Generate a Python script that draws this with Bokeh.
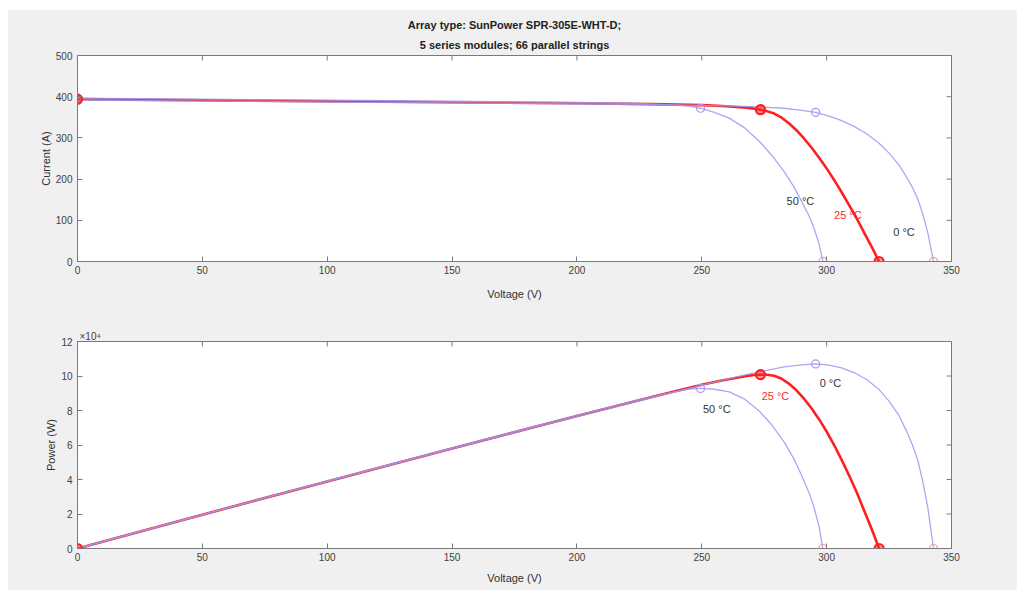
import math
from bokeh.plotting import figure
from bokeh.models import Title, Label, FixedTicker, Range1d
from bokeh.layouts import column
from bokeh.embed import file_html
from bokeh.resources import INLINE

# ---------------- data ----------------
TITLE_LINE1 = "Array type: SunPower SPR-305E-WHT-D;"
TITLE_LINE2 = "5 series modules; 66 parallel strings"

X_TICKS = [0, 50, 100, 150, 200, 250, 300, 350]
I_TICKS = [0, 100, 200, 300, 400, 500]
P_TICKS = [0, 2, 4, 6, 8, 10, 12]          # x 10^4 W

# 0 degC curve (voltage V, current A)
V_0C = [0, 50, 100, 150, 200, 250, 270, 283, 290, 295.6, 301, 306, 311, 316, 321, 325, 329, 332,
        334.5, 336.5, 338.5, 340.5, 342.8]
I_0C = [392, 389.5, 387, 385, 382.5, 379, 376, 372, 367, 362, 353, 342, 328, 310, 287, 263, 234, 205,
        178, 152, 115, 70, 0]

# 25 degC curve
V_25C = [0, 50, 100, 150, 200, 230, 250, 258, 264, 268, 271, 273.5, 276, 279, 282, 285, 288, 291,
         294, 297, 300, 303, 306, 309, 312, 315, 318, 321]
I_25C = [394, 391.5, 389, 386.5, 384, 382, 379.5, 377.5, 375, 373, 371, 368.5, 365, 359, 349, 335, 318, 298,
         276, 252, 226, 198, 168, 137, 105, 70, 36, 0]

# 50 degC curve
V_50C = [0, 50, 100, 150, 200, 225, 240, 245, 249.5, 255, 261, 267, 273, 278, 283, 287, 290, 293,
         295, 297, 298.5]
I_50C = [396.5, 394, 391.5, 389, 386, 383.5, 379.5, 377, 372, 362, 348, 325, 292, 258, 218, 180, 146, 110,
         80, 42, 0]

# marked points: (short circuit, maximum power, open circuit)
MARK_V_0C = [0, 295.6, 342.8]
MARK_I_0C = [392, 362, 0]
MARK_V_25C = [0, 273.5, 321]
MARK_I_25C = [394, 368.5, 0]
MARK_V_50C = [0, 249.5, 298.5]
MARK_I_50C = [396.5, 372, 0]

TEMP_LABELS = ["0 \u00b0C", "25 \u00b0C", "50 \u00b0C"]

# power = V * I, expressed in units of 10^4 W
def power(vs, is_):
    return [v * i / 1e4 for v, i in zip(vs, is_)]

P_0C, P_25C, P_50C = power(V_0C, I_0C), power(V_25C, I_25C), power(V_50C, I_50C)
MP_0C, MP_25C, MP_50C = power(MARK_V_0C, MARK_I_0C), power(MARK_V_25C, MARK_I_25C), power(MARK_V_50C, MARK_I_50C)

# ---------------- style ----------------
FONT = "Liberation Sans"
BG = "#f0f0f0"
AX = "#7a7a7a"
TXT = "#404040"
BLUE = "#9a9af2"
RED = "#ff1f1f"
VIOLET = "#b88ef0"
PINK = "#e69aa6"


def style_axis(ax):
    ax.axis_line_color = AX
    ax.major_tick_line_color = AX
    ax.major_tick_in = 5
    ax.major_tick_out = 0
    ax.minor_tick_line_color = None
    ax.major_label_text_font = FONT
    ax.major_label_text_font_size = "10px"
    ax.major_label_text_color = TXT
    ax.axis_label_text_font = FONT
    ax.axis_label_text_font_size = "11px"
    ax.axis_label_text_font_style = "normal"
    ax.axis_label_text_color = "#303030"


def make_fig(top, bottom, fheight, y_end, y_ticks, ylabel, xlabel_standoff):
    p = figure(frame_width=874, frame_height=fheight,
               min_border_left=69, min_border_right=66,
               min_border_top=top, min_border_bottom=bottom,
               x_range=Range1d(0, 350), y_range=Range1d(0, y_end),
               output_backend="svg", toolbar_location=None,
               background_fill_color="white", border_fill_color=BG,
               outline_line_color=AX)
    p.xgrid.visible = False
    p.ygrid.visible = False
    p.xaxis.ticker = FixedTicker(ticks=X_TICKS)
    p.yaxis.ticker = FixedTicker(ticks=y_ticks)
    p.xaxis.axis_label = "Voltage (V)"
    p.yaxis.axis_label = ylabel
    p.xaxis.major_label_standoff = 4
    p.yaxis.major_label_standoff = 5
    p.xaxis.axis_label_standoff = xlabel_standoff
    p.yaxis.axis_label_standoff = 1
    for ax in p.xaxis + p.yaxis:
        style_axis(ax)
    # inward tick marks on the top and right edges of the box
    p.ray(x=X_TICKS, y=[y_end] * len(X_TICKS), length=5, length_units="screen",
          angle=-math.pi / 2, line_color=AX, line_width=1)
    p.ray(x=[350] * len(y_ticks), y=y_ticks, length=5, length_units="screen",
          angle=math.pi, line_color=AX, line_width=1)
    return p


def draw(p, v0, y0, v25, y25, v50, y50, m0v, m0y, m25v, m25y, m50v, m50y):
    p.line(v25, y25, line_color=RED, line_width=2.6, line_join="round")
    p.line(v0, y0, line_color=BLUE, line_width=1.3, line_join="round", line_alpha=0.85)
    p.line(v50, y50, line_color=BLUE, line_width=1.3, line_join="round", line_alpha=0.85)
    # marks of the blue curves
    p.scatter(m0v[:2], m0y[:2], size=8, marker="circle", line_color=VIOLET, fill_color=None, line_width=1.2)
    p.scatter(m50v[:2], m50y[:2], size=8, marker="circle", line_color=VIOLET, fill_color=None, line_width=1.2)
    p.scatter(m0v[2:], m0y[2:], size=8, marker="circle", line_color=PINK, fill_color=None, line_width=1.2)
    p.scatter(m50v[2:], m50y[2:], size=8, marker="circle", line_color=PINK, fill_color=None, line_width=1.2)
    # marks of the red curve
    p.scatter(m25v, m25y, size=9, marker="circle", line_color=RED, fill_color=RED, fill_alpha=0.45, line_width=2.2)


def temp_label(p, x, y, text, color):
    p.add_layout(Label(x=x, y=y, text=text, text_font=FONT, text_font_size="11px",
                       text_color=color, text_align="center", text_baseline="middle"))


# ---------------- top: current ----------------
p1 = make_fig(45, 44, 206, 500, I_TICKS, "Current (A)", 11)
draw(p1, V_0C, I_0C, V_25C, I_25C, V_50C, I_50C,
     MARK_V_0C, MARK_I_0C, MARK_V_25C, MARK_I_25C, MARK_V_50C, MARK_I_50C)
temp_label(p1, 289.5, 148, TEMP_LABELS[2], "#333333")
temp_label(p1, 308.5, 112, TEMP_LABELS[1], RED)
temp_label(p1, 331, 72, TEMP_LABELS[0], "#333333")
p1.add_layout(Title(text=TITLE_LINE2, align="center", text_font=FONT, text_font_size="11px",
                    text_font_style="bold", text_color="#222222", standoff=10), "above")
p1.add_layout(Title(text=TITLE_LINE1, align="center", text_font=FONT, text_font_size="11px",
                    text_font_style="bold", text_color="#222222", standoff=2), "above")

# ---------------- bottom: power ----------------
p2 = make_fig(36, 42, 207, 12, P_TICKS, "Power (W)", 8)
draw(p2, V_0C, P_0C, V_25C, P_25C, V_50C, P_50C,
     MARK_V_0C, MP_0C, MARK_V_25C, MP_25C, MARK_V_50C, MP_50C)
temp_label(p2, 256, 8.07, TEMP_LABELS[2], "#333333")
temp_label(p2, 279.5, 8.84, TEMP_LABELS[1], RED)
temp_label(p2, 301.5, 9.62, TEMP_LABELS[0], "#333333")
p2.add_layout(Title(text="\u00d710\u2074", align="left", offset=2, text_font=FONT,
                    text_font_size="10px", text_font_style="normal", text_color=TXT, standoff=0), "above")

layout = column(p1, p2, spacing=0, margin=(10, 0, 0, 8), background=BG)
open("out.html", "w").write(file_html(layout, INLINE))
